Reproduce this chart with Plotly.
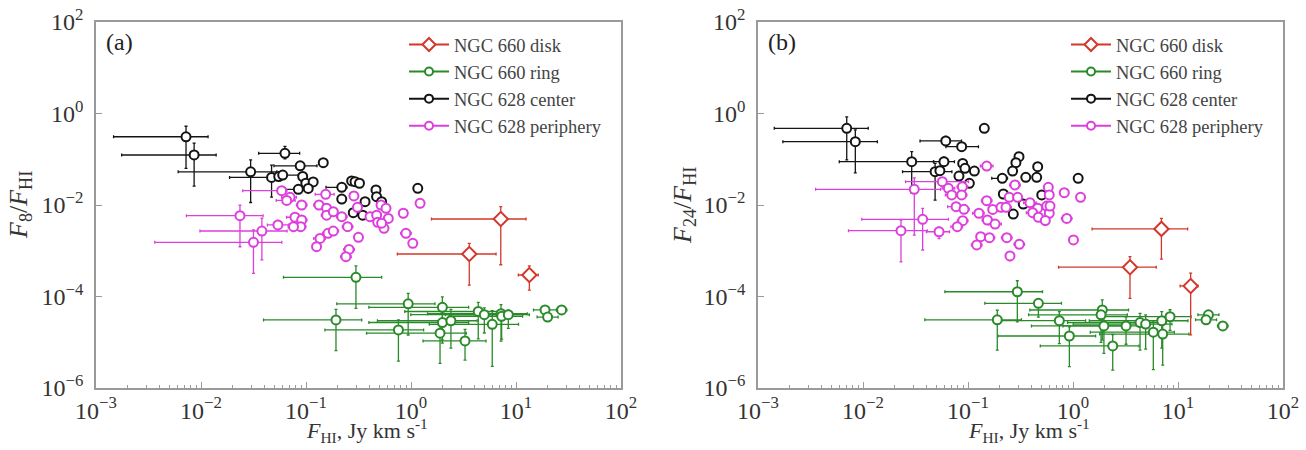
import plotly.graph_objects as go

# ---------------- data ----------------
# errors are given in dex (log10 extents) below / above each point
# Panel (a): F8/FHI
A_disk_x = [7.16, 3.59, 13.4]
A_disk_y = [0.00494, 0.00085, 2.95e-4]
A_disk_xm = [0.66, 0.685, 0.105]
A_disk_xp = [0.24, 0.255, 0.085]
A_disk_ym = [1.0, 0.68, 0.33]
A_disk_yp = [0.27, 0.23, 0.2]

A_ring_x = [0.299, 0.94, 0.193, 0.759, 1.99, 1.99, 1.89, 2.40, 3.27, 4.37, 4.99, 5.94, 7.2, 7.3, 8.45, 18.9, 20.0, 27.2]
A_ring_y = [2.63e-4, 6.9e-5, 3.07e-5, 1.86e-5, 5.8e-5, 2.7e-5, 1.58e-5, 2.95e-5, 1.07e-5, 4.7e-5, 4.0e-5, 2.46e-5, 4.2e-5, 3.7e-5, 4.0e-5, 5.1e-5, 3.55e-5, 5.1e-5]
A_ring_xm = [0.69, 0.68, 0.69, 0.70, 0.70, 0.70, 0.70, 0.70, 0.40, 0.70, 0.70, 0.60, 0.70, 0.50, 0.60, 0.11, 0.10, 0.05]
A_ring_xp = [0.245, 0.255, 0.245, 0.24, 0.25, 0.25, 0.25, 0.25, 0.20, 0.25, 0.25, 0.25, 0.25, 0.20, 0.20, 0.11, 0.10, 0.05]
A_ring_ym = [0.68, 0.68, 0.67, 0.68, 0.71, 0.45, 0.66, 0.60, 0.42, 0.60, 0.40, 0.92, 0.60, 0.50, 0.30, 0, 0, 0]
A_ring_yp = [0.25, 0.23, 0.23, 0.22, 0.23, 0.20, 0.20, 0.25, 0.25, 0.20, 0.15, 0.30, 0.20, 0.15, 0.10, 0, 0, 0]

A_center_x = [0.0072, 0.0086, 0.0297, 0.063, 0.088, 0.146, 0.047, 0.055, 0.060, 0.093, 0.0996, 0.117, 0.0845,
              0.105, 0.219, 0.272, 0.293, 0.323, 0.219, 0.365, 0.464, 0.47, 0.525, 1.16, 0.282, 0.347]
A_center_y = [0.31, 0.124, 0.053, 0.135, 0.072, 0.084, 0.040, 0.042, 0.045, 0.042, 0.030, 0.032, 0.022,
              0.023, 0.0244, 0.0335, 0.0324, 0.0299, 0.0135, 0.0118, 0.0213, 0.0152, 0.0118, 0.0231, 0.0068, 0.0060]
A_center_xm = [0.69, 0.69, 0.69, 0.25, 0.25, 0, 0.40, 0, 0.10, 0, 0, 0, 0.15, 0, 0.15, 0, 0, 0, 0, 0, 0, 0, 0, 0, 0, 0]
A_center_xp = [0.21, 0.21, 0.25, 0.14, 0.16, 0, 0.05, 0, 0.15, 0, 0, 0, 0.10, 0, 0.05, 0, 0, 0, 0, 0, 0, 0, 0, 0, 0, 0]
A_center_ym = [0.69, 0.68, 0.67, 0.12, 0.08, 0, 0.43, 0, 0, 0, 0, 0, 0, 0, 0, 0, 0, 0, 0, 0, 0, 0, 0, 0, 0, 0]
A_center_yp = [0.23, 0.26, 0.26, 0.15, 0.05, 0, 0.27, 0, 0, 0, 0, 0, 0, 0, 0, 0, 0, 0, 0, 0, 0, 0, 0, 0, 0, 0]

A_periph_x = [0.0235, 0.038, 0.0316, 0.054, 0.0586, 0.0705, 0.0655, 0.091, 0.0785, 0.091, 0.089, 0.076, 0.133,
              0.157, 0.157, 0.182, 0.154, 0.136, 0.162, 0.182, 0.126, 0.219, 0.249, 0.286, 0.309, 0.316, 0.257,
              0.240, 0.407, 0.471, 0.518, 0.578, 0.608, 0.553, 0.482, 0.525, 0.845, 0.895, 1.04, 1.22]
A_periph_y = [0.00585, 0.0027, 0.00153, 0.00366, 0.0206, 0.0147, 0.0126, 0.0100, 0.0054, 0.0047, 0.00336,
              0.00336, 0.0100, 0.0085, 0.0060, 0.00715, 0.0171, 0.00186, 0.0024, 0.0027, 0.00123, 0.00555,
              0.00336, 0.0158, 0.0089, 0.00197, 0.00107, 0.00074, 0.00555, 0.0060, 0.0100, 0.00847, 0.0051,
              0.0031, 0.0042, 0.0040, 0.0066, 0.0024, 0.00145, 0.0109]
A_periph_xm = [0.51, 0.59, 0.94, 0.10, 0.37, 0.08, 0.10, 0.05, 0.08, 0.06, 0.05, 0.05, 0.05, 0.06, 0.05, 0,
               0.10, 0.06, 0.05, 0.05, 0, 0.05, 0.05, 0, 0, 0, 0.05, 0.05, 0, 0, 0, 0, 0, 0, 0, 0, 0, 0.05, 0, 0]
A_periph_xp = [0.22, 0.24, 0.27, 0.10, 0.05, 0.06, 0.08, 0.05, 0.06, 0.05, 0.05, 0.05, 0.05, 0.05, 0.05, 0,
               0.08, 0.05, 0.05, 0.05, 0, 0.05, 0.05, 0, 0, 0, 0.05, 0.05, 0, 0, 0, 0, 0, 0, 0, 0, 0, 0.05, 0, 0]
A_periph_ym = [0.68, 0.63, 0.68, 0.10, 0, 0, 0, 0, 0, 0, 0, 0.08, 0, 0, 0, 0, 0, 0, 0, 0, 0.08, 0, 0, 0, 0, 0,
               0, 0.06, 0, 0, 0, 0, 0, 0, 0, 0, 0, 0, 0, 0]
A_periph_yp = [0.23, 0.28, 0.27, 0.10, 0, 0, 0, 0, 0, 0, 0, 0.05, 0, 0, 0, 0, 0, 0, 0, 0, 0.05, 0, 0, 0, 0, 0,
               0, 0.06, 0, 0, 0, 0, 0, 0, 0, 0, 0, 0, 0, 0]

# Panel (b): F24/FHI
B_disk_x = [6.95, 3.49, 13.2]
B_disk_y = [0.0030, 4.37e-4, 1.7e-4]
B_disk_xm = [0.66, 0.68, 0.10]
B_disk_xp = [0.25, 0.25, 0.07]
B_disk_ym = [0.66, 0.68, 1.07]
B_disk_yp = [0.23, 0.23, 0.28]

B_ring_x = [0.295, 0.468, 0.19, 0.741, 1.9, 1.85, 1.97, 0.923, 2.39, 3.2, 4.35, 4.92, 5.82, 7.0, 7.15, 8.4, 19.5, 18.5, 26.7]
B_ring_y = [1.27e-4, 7.1e-5, 3.09e-5, 2.96e-5, 5.07e-5, 3.97e-5, 2.27e-5, 1.37e-5, 8.3e-6, 2.27e-5, 2.69e-5,
            2.5e-5, 1.66e-5, 2.95e-5, 1.51e-5, 3.63e-5, 3.97e-5, 3.09e-5, 2.27e-5]
B_ring_xm = [0.69, 0.51, 0.69, 0.55, 0.69, 0.69, 0.69, 0.68, 0.69, 0.60, 0.69, 0.69, 0.60, 0.69, 0.60, 0.69, 0.10, 0.10, 0.05]
B_ring_xp = [0.24, 0.22, 0.23, 0.25, 0.25, 0.25, 0.25, 0.25, 0.25, 0.20, 0.25, 0.25, 0.20, 0.25, 0.25, 0.20, 0.10, 0.10, 0.05]
B_ring_ym = [0.66, 0.30, 0.66, 0.50, 0.66, 0.60, 0.60, 0.67, 0.53, 0.40, 0.60, 0.55, 0.82, 0.60, 0.68, 0.30, 0, 0, 0]
B_ring_yp = [0.24, 0.10, 0.21, 0.20, 0.22, 0.20, 0.25, 0.20, 0.25, 0.20, 0.20, 0.20, 0.25, 0.20, 0.20, 0.15, 0, 0, 0]

B_center_x = [0.0070, 0.00845, 0.0291, 0.0614, 0.087, 0.143, 0.0486, 0.054, 0.089, 0.0936, 0.115, 0.082, 0.103,
              0.306, 0.286, 0.266, 0.212, 0.355, 0.461, 0.451, 0.217, 0.336, 0.27, 0.504, 1.12, 0.059]
B_center_y = [0.474, 0.242, 0.0883, 0.251, 0.188, 0.474, 0.0535, 0.0562, 0.081, 0.0634, 0.0553, 0.043, 0.0298,
              0.114, 0.084, 0.0553, 0.0383, 0.0403, 0.0687, 0.0403, 0.0174, 0.0105, 0.00635, 0.0166, 0.0383, 0.0883]
B_center_xm = [0.69, 0.69, 0.69, 0.245, 0.15, 0, 0.31, 0, 0, 0, 0, 0, 0, 0, 0, 0, 0.1, 0, 0, 0, 0, 0, 0, 0, 0, 0.1]
B_center_xp = [0.205, 0.21, 0.21, 0.15, 0.16, 0, 0.16, 0, 0, 0, 0, 0, 0, 0, 0, 0, 0.05, 0, 0, 0, 0, 0, 0, 0, 0, 0.1]
B_center_ym = [0.69, 0.68, 0.68, 0.10, 0.05, 0, 0.62, 0, 0, 0, 0, 0, 0, 0, 0, 0, 0, 0, 0, 0, 0, 0, 0, 0, 0, 0.1]
B_center_yp = [0.25, 0.26, 0.22, 0.10, 0.05, 0, 0.18, 0, 0, 0, 0, 0, 0, 0, 0, 0, 0, 0, 0, 0, 0, 0, 0, 0, 0, 0.1]

B_periph_x = [0.0308, 0.037, 0.023, 0.053, 0.0569, 0.065, 0.070, 0.0883, 0.087, 0.077, 0.0916, 0.089, 0.079,
              0.1507, 0.1507, 0.127, 0.153, 0.181, 0.132, 0.121, 0.160, 0.172, 0.206, 0.230, 0.28, 0.247, 0.297,
              0.234, 0.308, 0.251, 0.389, 0.461, 0.413, 0.468, 0.562, 0.594, 0.545, 0.582, 0.594, 0.604, 0.826,
              0.871, 1.01, 1.18]
B_periph_y = [0.022, 0.00486, 0.00274, 0.0026, 0.0324, 0.0232, 0.0166, 0.025, 0.0166, 0.0092, 0.00805, 0.00454,
              0.00336, 0.0711, 0.0124, 0.0066, 0.0047, 0.00384, 0.00203, 0.00134, 0.00193, 0.008, 0.0089, 0.0089,
              0.0274, 0.0147, 0.0147, 0.00193, 0.00138, 0.00077, 0.0112, 0.0085, 0.0068, 0.0054, 0.0095, 0.0066,
              0.00457, 0.0243, 0.0166, 0.0095, 0.0186, 0.0051, 0.00172, 0.0147]
B_periph_xm = [0.94, 0.58, 0.50, 0.12, 0.35, 0.06, 0.06, 0.05, 0.06, 0.08, 0.05, 0.05, 0.06, 0.06, 0.05, 0.06,
               0.05, 0.06, 0, 0.05, 0.05, 0, 0, 0.05, 0.05, 0, 0, 0.05, 0.05, 0, 0.06, 0, 0.06, 0, 0, 0, 0, 0, 0,
               0, 0, 0.05, 0, 0]
B_periph_xp = [0.25, 0.245, 0.25, 0.10, 0.25, 0.06, 0.05, 0.05, 0.05, 0.06, 0.05, 0.05, 0.05, 0.06, 0.05, 0.05,
               0.05, 0.06, 0, 0.05, 0.05, 0, 0, 0.05, 0.05, 0, 0, 0.05, 0.05, 0, 0.06, 0, 0.06, 0, 0, 0, 0, 0, 0,
               0, 0, 0.05, 0, 0]
B_periph_ym = [1.0, 0.67, 0.68, 0.15, 0, 0, 0, 0, 0, 0, 0, 0.08, 0.08, 0, 0, 0, 0, 0, 0.06, 0.08, 0, 0, 0, 0, 0,
               0, 0, 0, 0, 0.1, 0, 0, 0, 0, 0, 0, 0, 0, 0, 0, 0, 0, 0, 0]
B_periph_yp = [0.25, 0.24, 0.23, 0.10, 0, 0, 0, 0, 0, 0, 0, 0.05, 0.05, 0, 0, 0, 0, 0, 0.05, 0.05, 0, 0, 0, 0, 0,
               0, 0, 0, 0, 0.05, 0, 0, 0, 0, 0, 0, 0, 0, 0, 0, 0, 0, 0, 0]

series_names = ["NGC 660 disk", "NGC 660 ring", "NGC 628 center", "NGC 628 periphery"]
series_colors = ["#d2382b", "#2a8a2a", "#141414", "#dd3fdd"]
series_symbols = ["diamond", "circle", "circle", "circle"]
series_sizes = [11, 9, 9, 9]

panel_a = [
    (A_disk_x, A_disk_y, A_disk_xm, A_disk_xp, A_disk_ym, A_disk_yp),
    (A_ring_x, A_ring_y, A_ring_xm, A_ring_xp, A_ring_ym, A_ring_yp),
    (A_center_x, A_center_y, A_center_xm, A_center_xp, A_center_ym, A_center_yp),
    (A_periph_x, A_periph_y, A_periph_xm, A_periph_xp, A_periph_ym, A_periph_yp),
]
panel_b = [
    (B_disk_x, B_disk_y, B_disk_xm, B_disk_xp, B_disk_ym, B_disk_yp),
    (B_ring_x, B_ring_y, B_ring_xm, B_ring_xp, B_ring_ym, B_ring_yp),
    (B_center_x, B_center_y, B_center_xm, B_center_xp, B_center_ym, B_center_yp),
    (B_periph_x, B_periph_y, B_periph_xm, B_periph_xp, B_periph_ym, B_periph_yp),
]

x_tick_vals = [1e-3, 1e-2, 1e-1, 1e0, 1e1, 1e2]
x_tick_text = ["10<sup>−3</sup>", "10<sup>−2</sup>", "10<sup>−1</sup>", "10<sup>0</sup>", "10<sup>1</sup>", "10<sup>2</sup>"]
y_tick_vals = [1e-6, 1e-4, 1e-2, 1e0, 1e2]
y_tick_text = ["10<sup>−6</sup>", "10<sup>−4</sup>", "10<sup>−2</sup>", "10<sup>0</sup>", "10<sup>2</sup>"]

# ---------------- figure ----------------
W, H = 1306, 450
FONT = "Liberation Serif"
AXC = "#9a9a9a"
TXT = "#333333"

fig = go.Figure()


def plus_minus(v, m, p):
    plus = [vi * (10 ** pi - 1) for vi, pi in zip(v, p)]
    minus = [vi * (1 - 10 ** (-mi)) for vi, mi in zip(v, m)]
    return plus, minus


draw_order = [2, 3, 1, 0]
for pi, (panel, xa, ya) in enumerate([(panel_a, "x", "y"), (panel_b, "x2", "y2")]):
    for si in draw_order:
        x, y, xm, xp, ym, yp = panel[si]
        exp_, exm = plus_minus(x, xm, xp)
        eyp, eym = plus_minus(y, ym, yp)
        c = series_colors[si]
        fig.add_trace(go.Scatter(
            x=x, y=y, mode="markers", xaxis=xa, yaxis=ya, showlegend=False,
            marker=dict(symbol=series_symbols[si], size=series_sizes[si], color="white",
                        line=dict(width=2, color=c)),
            error_x=dict(type="data", symmetric=False, array=exp_, arrayminus=exm,
                         color=c, thickness=1.3, width=1.5),
            error_y=dict(type="data", symmetric=False, array=eyp, arrayminus=eym,
                         color=c, thickness=1.3, width=1.5),
        ))
    # legend entries
    for si in range(4):
        c = series_colors[si]
        fig.add_trace(go.Scatter(
            x=[None], y=[None], mode="lines+markers", xaxis=xa, yaxis=ya,
            name=series_names[si], legend="legend" if pi == 0 else "legend2",
            legendgroup=f"g{pi}{si}",
            line=dict(color=c, width=2),
            marker=dict(symbol=series_symbols[si], size=series_sizes[si] - 1, color="white",
                        line=dict(width=2, color=c)),
        ))

# panel geometry in pixels
A_L, A_R = 96, 621
B_L, B_R = 758, 1283
TOP, BOT = 22, 388


def px_x(p):
    return p / W


def px_y(p):
    return 1 - p / H


common_x = dict(type="log", range=[-3, 2], tickmode="array", tickvals=x_tick_vals, ticktext=x_tick_text,
                ticks="inside", ticklen=6, tickwidth=1, tickcolor=AXC, showline=True, linecolor=AXC,
                linewidth=1.5, mirror=True, showgrid=False, zeroline=False, automargin=False,
                ticklabelstandoff=0,
                tickfont=dict(family=FONT, size=24, color=TXT),
                minor=dict(ticks="inside", ticklen=3, tickcolor=AXC, showgrid=False,
                           tickvals=[m * 10.0 ** k for k in range(-3, 2) for m in range(2, 10)]))
common_y = dict(type="log", range=[-6, 2], tickmode="array", tickvals=y_tick_vals, ticktext=y_tick_text,
                ticks="inside", ticklen=6, tickwidth=1, tickcolor=AXC, showline=True, linecolor=AXC,
                linewidth=1.5, mirror=True, showgrid=False, zeroline=False, automargin=False,
                ticklabelstandoff=6,
                tickfont=dict(family=FONT, size=24, color=TXT))

legend_common = dict(xanchor="left", yanchor="top", bgcolor="rgba(0,0,0,0)",
                     font=dict(family=FONT, size=18.5, color="#444444"), tracegroupgap=0, itemwidth=40)

fig.update_layout(
    width=W, height=H, margin=dict(l=0, r=0, t=0, b=0, autoexpand=False),
    paper_bgcolor="white", plot_bgcolor="white",
    xaxis=dict(domain=[px_x(A_L), px_x(A_R)], anchor="y", **common_x),
    yaxis=dict(domain=[px_y(BOT), px_y(TOP)], anchor="x", **common_y),
    xaxis2=dict(domain=[px_x(B_L), px_x(B_R)], anchor="y2", **common_x),
    yaxis2=dict(domain=[px_y(BOT), px_y(TOP)], anchor="x2", **common_y),
    legend=dict(x=px_x(404), y=px_y(26), **legend_common),
    legend2=dict(x=px_x(404 + 662), y=px_y(26), **legend_common),
    font=dict(family=FONT, color=TXT),
)

annotations = []
for lab, L in [("(a)", A_L), ("(b)", B_L)]:
    annotations.append(dict(text=lab, x=px_x(L + 8), y=px_y(42), xref="paper", yref="paper",
                            xanchor="left", yanchor="middle", showarrow=False,
                            font=dict(family=FONT, size=24, color="#222222")))
for ttl, cx in [("<i>F</i><sub>8</sub>/<i>F</i><sub>HI</sub>", 20), ("<i>F</i><sub>24</sub>/<i>F</i><sub>HI</sub>", 684)]:
    annotations.append(dict(text=ttl, x=px_x(cx), y=px_y((TOP + BOT) / 2), xref="paper", yref="paper",
                            xanchor="center", yanchor="middle", showarrow=False, textangle=-90,
                            font=dict(family=FONT, size=26, color=TXT)))
for L, R in [(A_L, A_R), (B_L, B_R)]:
    annotations.append(dict(text="<i>F</i><sub>HI</sub>, Jy km s<sup>-1</sup>", x=px_x((L + R) / 2 + 8),
                            y=px_y(448), xref="paper", yref="paper", xanchor="center", yanchor="bottom",
                            showarrow=False, font=dict(family=FONT, size=22, color=TXT)))
fig.update_layout(annotations=annotations)

fig.write_html("out.html")
